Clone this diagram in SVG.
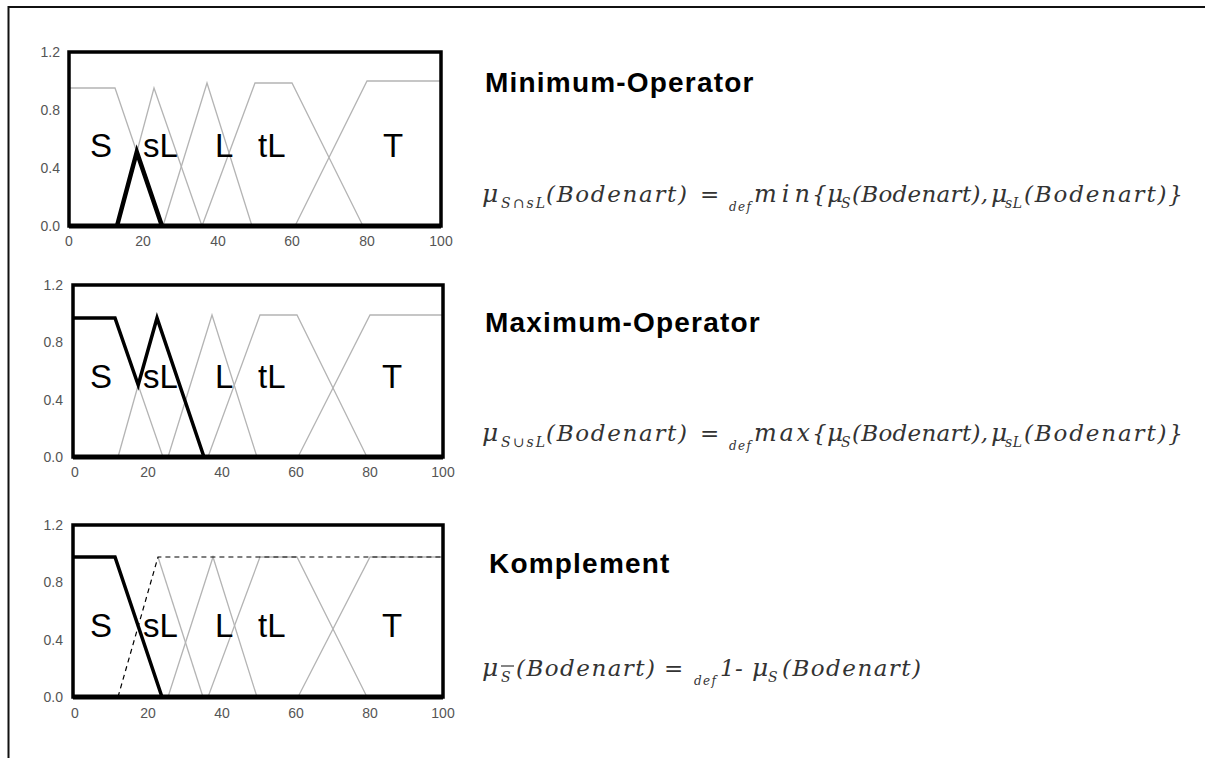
<svg xmlns="http://www.w3.org/2000/svg" width="1205" height="758" viewBox="0 0 1205 758">
<style>
.frame{fill:none;stroke:#000;stroke-width:3.5}
.base{stroke:#000;stroke-width:5}
.g{fill:none;stroke:#b4b4b4;stroke-width:1.3}
.b{fill:none;stroke:#000;stroke-width:3.5;stroke-linejoin:miter}
.d{fill:none;stroke:#000;stroke-width:1.2;stroke-dasharray:5 4}
.tk{font-family:"Liberation Sans",Arial,sans-serif;font-size:14px;fill:#555}
.lb{font-family:"Liberation Sans",Arial,sans-serif;font-size:33px;fill:#000}
.tt{font-family:"Liberation Sans",Arial,sans-serif;font-size:28px;font-weight:bold;fill:#000;letter-spacing:1.2px}
.f{font-family:"DejaVu Serif","Liberation Serif",serif;font-style:italic;font-size:23px;fill:#333}
.m{font-family:"DejaVu Serif","Liberation Serif",serif;font-style:italic;font-size:25px;fill:#333}
.s{font-family:"DejaVu Serif","Liberation Serif",serif;font-style:italic;font-size:14px;fill:#333}
.dd{font-family:"DejaVu Serif","Liberation Serif",serif;font-style:italic;font-size:12px;fill:#333}
</style>
<rect width="1205" height="758" fill="#fff"/>
<g id="border">
<line x1="8.5" y1="7" x2="1205" y2="7" stroke="#111" stroke-width="2"/>
<line x1="8.5" y1="6" x2="8.5" y2="758" stroke="#111" stroke-width="2"/>
</g>

<g id="chart-min">
<g class="tk" text-anchor="end">
<text x="60" y="57">1.2</text><text x="60" y="115">0.8</text><text x="60" y="173">0.4</text><text x="60" y="231">0.0</text>
</g>
<g class="tk" text-anchor="middle">
<text x="69" y="246">0</text><text x="143" y="246">20</text><text x="218" y="246">40</text><text x="292" y="246">60</text><text x="367" y="246">80</text><text x="441" y="246">100</text>
</g>
<polyline class="g" points="69,88 115,88 162,226"/>
<polyline class="g" points="117,226 154,88 202,226"/>
<polyline class="g" points="163,226 207,83 252,226"/>
<polyline class="g" points="202,226 255,83 292,83 363,226"/>
<polyline class="g" points="295,226 367,81 441,81"/>
<polyline class="b" points="117,226 136.8,152 162,226" style="stroke-width:4.5"/>
<rect class="frame" x="69" y="52" width="372" height="174"/>
<line class="base" x1="69" y1="226" x2="441" y2="226"/>
<g class="lb">
<text x="90" y="157">S</text><text x="143" y="157">sL</text><text x="215" y="157">L</text><text x="258" y="157">tL</text><text x="383" y="157">T</text>
</g>
</g>

<g id="chart-max">
<g class="tk" text-anchor="end">
<text x="63" y="290">1.2</text><text x="63" y="347">0.8</text><text x="63" y="405">0.4</text><text x="63" y="462">0.0</text>
</g>
<g class="tk" text-anchor="middle">
<text x="75" y="477">0</text><text x="148" y="477">20</text><text x="222" y="477">40</text><text x="296" y="477">60</text><text x="370" y="477">80</text><text x="443" y="477">100</text>
</g>
<polyline class="g" points="73,318 115,318 163,457"/>
<polyline class="g" points="118,457 157,318 204,457"/>
<polyline class="g" points="168,457 212,315 257,457"/>
<polyline class="g" points="208,457 260,315 297,315 367,457"/>
<polyline class="g" points="298,457 370,315 443,315"/>
<polyline class="b" points="73,318 115,318 138.2,385 157,318 204,457" style="stroke-width:3.5"/>
<rect class="frame" x="73" y="285" width="370" height="172"/>
<line class="base" x1="73" y1="457" x2="443" y2="457"/>
<g class="lb">
<text x="90" y="388">S</text><text x="143" y="388">sL</text><text x="215" y="388">L</text><text x="258" y="388">tL</text><text x="382" y="388">T</text>
</g>
</g>

<g id="chart-komplement">
<g class="tk" text-anchor="end">
<text x="63" y="530">1.2</text><text x="63" y="587">0.8</text><text x="63" y="645">0.4</text><text x="63" y="702">0.0</text>
</g>
<g class="tk" text-anchor="middle">
<text x="75" y="718">0</text><text x="148" y="718">20</text><text x="222" y="718">40</text><text x="296" y="718">60</text><text x="370" y="718">80</text><text x="443" y="718">100</text>
</g>
<polyline class="g" points="158,557 203,697"/>
<polyline class="g" points="168,697 213,557 257,697"/>
<polyline class="g" points="208,697 260,557 297,557 367,697"/>
<polyline class="g" points="298,697 370,557 443,557"/>
<polyline class="d" points="118,697 158,557 443,557"/>
<polyline class="b" points="73,557 115,557 162,697" style="stroke-width:3.5"/>
<rect class="frame" x="73" y="525" width="370" height="172"/>
<line class="base" x1="73" y1="697" x2="443" y2="697"/>
<g class="lb">
<text x="90" y="637">S</text><text x="143" y="637">sL</text><text x="215" y="637">L</text><text x="258" y="637">tL</text><text x="382" y="637">T</text>
</g>
</g>

<g id="title-min"><text class="tt" x="485" y="92">Minimum-Operator</text></g>
<g id="title-max"><text class="tt" x="485" y="332">Maximum-Operator</text></g>
<g id="title-komp"><text class="tt" x="489" y="573">Komplement</text></g>

<g id="formula-min">
<text class="m" x="482" y="202">μ</text>
<text class="s" x="501" y="208" textLength="44" lengthAdjust="spacing">S∩sL</text>
<text class="f" x="546" y="202" textLength="141" lengthAdjust="spacing">(Bodenart)</text>
<text class="f" x="700" y="202">=</text>
<text class="dd" x="729" y="211" textLength="22" lengthAdjust="spacing">def</text>
<text class="f" x="754" y="202" textLength="56" lengthAdjust="spacing" style="font-size:24px">min</text>
<text class="f" x="812" y="202">{</text>
<text class="m" x="827" y="202">μ</text>
<text class="s" x="841" y="208">S</text>
<text class="f" x="852" y="202" textLength="136" lengthAdjust="spacing">(Bodenart),</text>
<text class="m" x="991" y="202">μ</text>
<text class="s" x="1005" y="208" textLength="17" lengthAdjust="spacing">sL</text>
<text class="f" x="1024" y="202" textLength="159" lengthAdjust="spacing">(Bodenart)}</text>
</g>

<g id="formula-max">
<text class="m" x="482" y="441">μ</text>
<text class="s" x="501" y="447" textLength="44" lengthAdjust="spacing">S∪sL</text>
<text class="f" x="546" y="441" textLength="141" lengthAdjust="spacing">(Bodenart)</text>
<text class="f" x="700" y="441">=</text>
<text class="dd" x="729" y="450" textLength="22" lengthAdjust="spacing">def</text>
<text class="f" x="754" y="441" textLength="56" lengthAdjust="spacing" style="font-size:24px">max</text>
<text class="f" x="812" y="441">{</text>
<text class="m" x="827" y="441">μ</text>
<text class="s" x="841" y="447">S</text>
<text class="f" x="852" y="441" textLength="136" lengthAdjust="spacing">(Bodenart),</text>
<text class="m" x="991" y="441">μ</text>
<text class="s" x="1005" y="447" textLength="17" lengthAdjust="spacing">sL</text>
<text class="f" x="1024" y="441" textLength="159" lengthAdjust="spacing">(Bodenart)}</text>
</g>

<g id="formula-komp">
<text class="m" x="482" y="676">μ</text>
<text class="s" x="501" y="682">S</text>
<line x1="501" y1="666" x2="514" y2="666" stroke="#333" stroke-width="1.2"/>
<text class="f" x="516" y="676" textLength="139" lengthAdjust="spacing">(Bodenart)</text>
<text class="f" x="664" y="676">=</text>
<text class="dd" x="694" y="685" textLength="22" lengthAdjust="spacing">def</text>
<text class="f" x="720" y="676">1</text>
<text class="f" x="735" y="676">-</text>
<text class="m" x="752" y="676">μ</text>
<text class="s" x="768" y="682">S</text>
<text class="f" x="782" y="676" textLength="139" lengthAdjust="spacing">(Bodenart)</text>
</g>
</svg>
